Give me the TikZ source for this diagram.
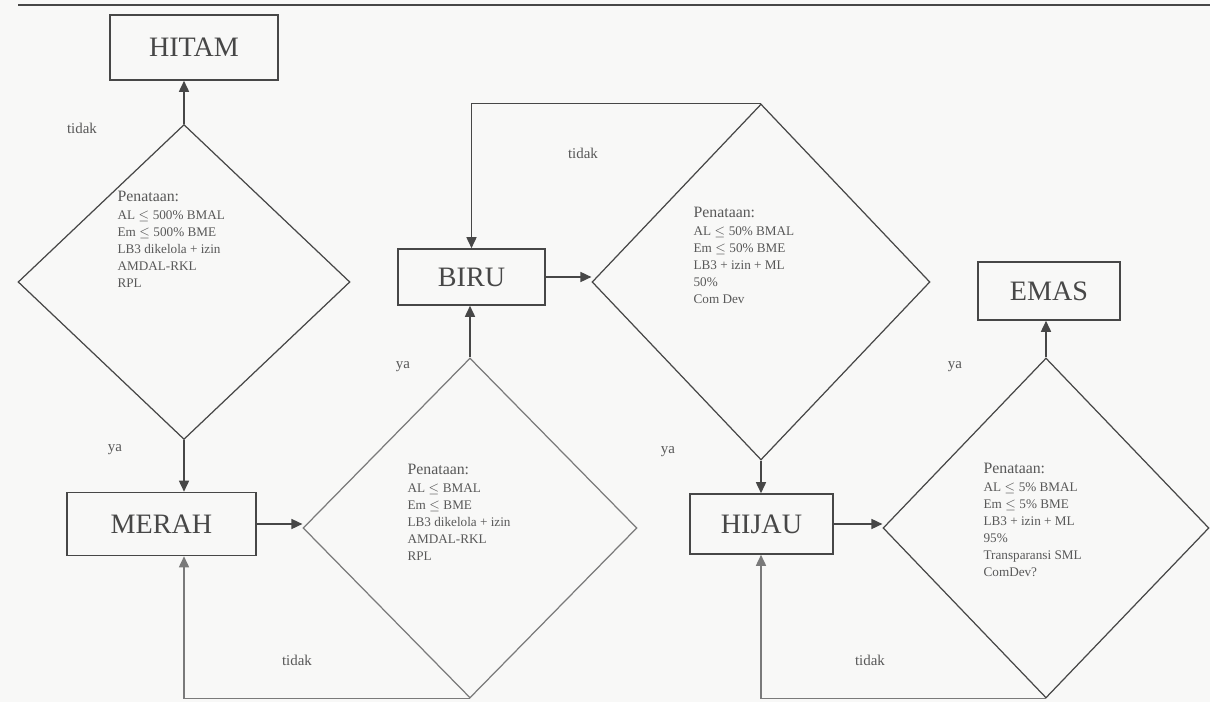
\documentclass[tikz,border=0pt]{standalone}
\usepackage{fontspec}
\setmainfont{Liberation Serif}
\usetikzlibrary{arrows.meta, shapes.geometric}
\definecolor{cline}{HTML}{474747}
\definecolor{cpale}{HTML}{7A7A7A}
\definecolor{ctext}{HTML}{585858}
\definecolor{cpaper}{HTML}{F8F8F7}
\tikzset{
  every picture/.style={line width=0.7pt},
  level/.style 2 args={draw=cline, line width=0.9pt, minimum width=#1, minimum height=#2, inner sep=0pt, font=\fontsize{16}{18}\selectfont, text=cline},
  check/.style 2 args={diamond, draw=cline, minimum width=#1, minimum height=#2, inner sep=0pt},
  rules/.style={font=\fontsize{7.5}{9.7}\selectfont, text=ctext, align=left, anchor=north west, inner sep=0pt},
  answer/.style={font=\fontsize{8.5}{10}\selectfont, text=ctext},
  arrow/.style={-{Triangle[length=2.2mm, width=2mm]}, draw=cline, line width=0.9pt},
}
\newcommand{\penataan}{{\fontsize{9}{11}\selectfont Penataan:}}

\begin{document}
\begin{tikzpicture}[x=0.02cm, y=-0.02cm]
  \fill[cpaper] (0,0) rectangle (1210,702);
  \useasboundingbox (0,0) rectangle (1210,702);
  \draw[cline, line width=1.6pt] (18,5) -- (1210,5);
  % rating levels
  \node[level={3.36cm}{1.30cm}] (hitam) at (194,47.5) {HITAM};
  \node[level={3.78cm}{1.26cm}] (merah) at (161.5,524) {MERAH};
  \node[level={2.94cm}{1.12cm}] (biru) at (471.5,277) {BIRU};
  \node[level={2.86cm}{1.20cm}] (hijau) at (761.5,524) {HIJAU};
  \node[level={2.84cm}{1.16cm}] (emas) at (1049,291) {EMAS};
  % decisions
  \node[check={6.64cm}{6.30cm}] (d1) at (184,282) {};
  \node[check={6.68cm}{6.80cm}, draw=cpale] (d2) at (470,528) {};
  \node[check={6.76cm}{7.12cm}] (d3) at (761,282) {};
  \node[check={6.52cm}{6.80cm}] (d4) at (1046,528) {};
  \node[rules] (t1) at (117,191) {\penataan\\ AL $\leq$ 500\% BMAL\\ Em $\leq$ 500\% BME\\ LB3 dikelola + izin\\ AMDAL-RKL\\ RPL};
  \node[rules] (t2) at (407,464) {\penataan\\ AL $\leq$ BMAL\\ Em $\leq$ BME\\ LB3 dikelola + izin\\ AMDAL-RKL\\ RPL};
  \node[rules] (t3) at (693,207) {\penataan\\ AL $\leq$ 50\% BMAL\\ Em $\leq$ 50\% BME\\ LB3 + izin + ML\\ 50\%\\ Com Dev};
  \node[rules] (t4) at (983,463) {\penataan\\ AL $\leq$ 5\% BMAL\\ Em $\leq$ 5\% BME\\ LB3 + izin + ML\\ 95\%\\ Transparansi SML\\ ComDev?};
  % flow
  \draw[arrow] (d1.north) -- (d1.north |- hitam.south);
  \draw[arrow] (d1.south) -- (d1.south |- merah.north);
  \draw[arrow] (merah.east) -- (merah.east -| d2.west);
  \draw[arrow, draw=cpale] (d2.south) -| (merah.south -| d1.south);
  \draw[arrow] (d2.north) -- (d2.north |- biru.south);
  \draw[arrow] (biru.east) -- (biru.east -| d3.west);
  \draw[arrow] (d3.north) -| (biru.north);
  \draw[arrow] (d3.south) -- (d3.south |- hijau.north);
  \draw[arrow] (hijau.east) -- (hijau.east -| d4.west);
  \draw[arrow, draw=cpale] (d4.south) -| (hijau.south -| d3.south);
  \draw[arrow] (d4.north) -- (d4.north |- emas.south);
  % answers
  \node[answer] (a1) at (82,128) {tidak};
  \node[answer] (a2) at (115,450) {ya};
  \node[answer] (a3) at (297,660) {tidak};
  \node[answer] (a4) at (403,367) {ya};
  \node[answer] (a5) at (583,153) {tidak};
  \node[answer] (a6) at (668,452) {ya};
  \node[answer] (a7) at (955,367) {ya};
  \node[answer] (a8) at (870,660) {tidak};
\end{tikzpicture}
\end{document}
